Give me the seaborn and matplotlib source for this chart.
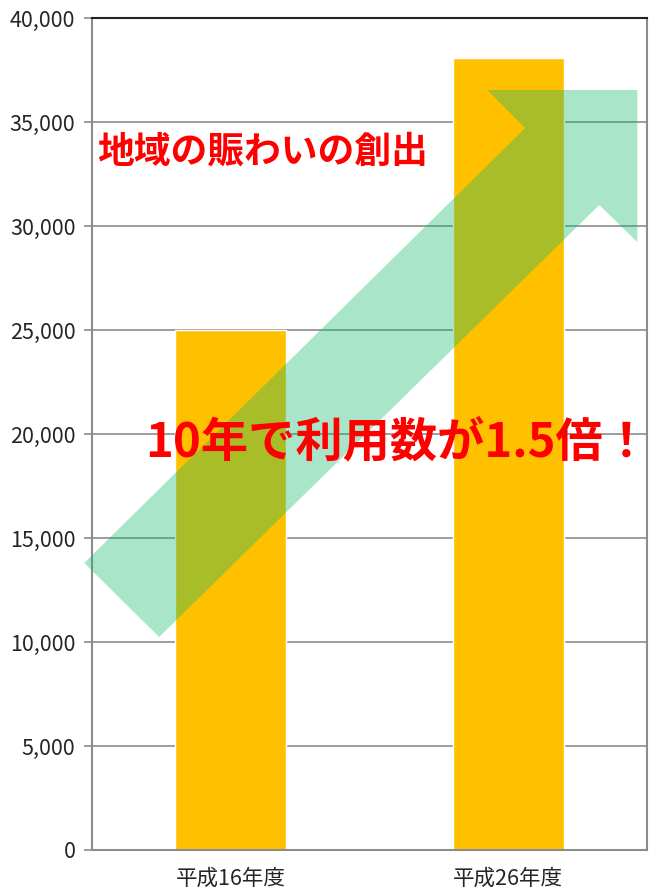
import matplotlib
matplotlib.use('Agg')
import matplotlib.pyplot as plt
import seaborn as sns
import pandas as pd
from matplotlib.patches import Polygon
from matplotlib.ticker import FuncFormatter, MultipleLocator

# --- data ---
categories = ['平成16年度', '平成26年度']
values = [25000, 38080]
y_ticks = list(range(0, 40001, 5000))

title_text = '地域の賑わいの創出'
callout_text = '10年で利用数が1.5倍！'

# rising arrow decoration (data coords: category position, value)
arrow_x = [-0.528, 1.061, 0.924, 1.465, 1.465, 1.328, -0.258]
arrow_y = [13800, 34710, 36540, 36540, 29230, 31010, 10240]

sns.set_style('white')
plt.rcParams['font.family'] = ['Noto Sans CJK JP', 'DejaVu Sans']

df = pd.DataFrame({'year': categories, 'count': values})

fig = plt.figure(figsize=(6.58, 8.93), dpi=100)
ax = fig.add_axes([92 / 658, 43 / 893, 555 / 658, 832 / 893])

sns.barplot(data=df, x='year', y='count', color='#FFC000', width=0.4,
            saturation=1, ax=ax, zorder=2)

ax.set_xlim(-0.5, 1.5)
ax.set_ylim(0, 40000)
ax.set_yticks(y_ticks)
ax.yaxis.set_major_formatter(FuncFormatter(lambda v, p: f'{int(v):,}'))
ax.grid(axis='y', color='#8c8c8c', linewidth=1.2, zorder=0)
ax.set_axisbelow(True)
ax.set_xlabel('')
ax.set_ylabel('')

# category boundary ticks on the x axis
ax.xaxis.set_minor_locator(MultipleLocator(1, offset=0.5))
ax.tick_params(axis='x', which='major', length=0, pad=13, labelsize=15.5)
ax.tick_params(axis='x', which='minor', length=6, width=1.2, color='#8c8c8c',
               direction='out')
ax.tick_params(axis='y', length=6, width=1.2, color='#8c8c8c', direction='out',
               pad=6, labelsize=15.5, left=True)

for side in ['left', 'right', 'bottom']:
    ax.spines[side].set_color('#8c8c8c')
    ax.spines[side].set_linewidth(1.5)
ax.spines['top'].set_color('#222222')
ax.spines['top'].set_linewidth(1.5)

arrow = Polygon(list(zip(arrow_x, arrow_y)), closed=True,
                facecolor='#16BA6E', alpha=0.37, edgecolor='none',
                zorder=3, clip_on=False)
ax.add_patch(arrow)

ax.text(0.009, 0.839, title_text, transform=ax.transAxes, color='#FF0000',
        fontsize=26.5, fontweight='bold', va='center', ha='left', zorder=5)
ax.text(0.095, 0.489, callout_text, transform=ax.transAxes, color='#FF0000',
        fontsize=34, fontweight='bold', va='center', ha='left', zorder=5)

fig.savefig('out.png', dpi=100)
